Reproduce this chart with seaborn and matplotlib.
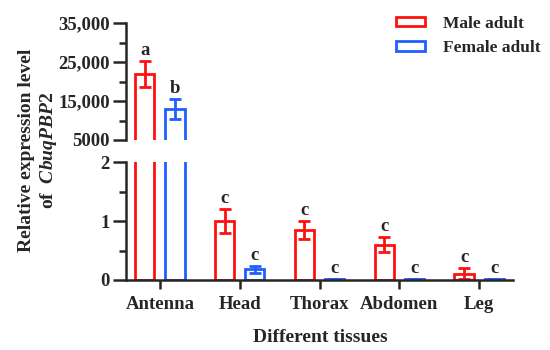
import numpy as np
import pandas as pd
import matplotlib
matplotlib.use("Agg")
import matplotlib.pyplot as plt
from matplotlib.patches import Patch
from matplotlib.ticker import MultipleLocator, FixedLocator, FixedFormatter
import seaborn as sns

# data
tissues = ["Antenna", "Head", "Thorax", "Abdomen", "Leg"]
male_mean = [21900, 1.00, 0.85, 0.60, 0.11]
male_sd = [3400, 0.20, 0.15, 0.13, 0.09]
female_mean = [13000, 0.18, 0.01, 0.01, 0.01]
female_sd = [2500, 0.06, 0.0, 0.0, 0.0]
male_letters = ["a", "c", "c", "c", "c"]
female_letters = ["b", "c", "c", "c", "c"]
sexes = ["Male adult", "Female adult"]
colors = ["#ff1010", "#1f5fff"]

df = pd.DataFrame({
    "tissue": tissues * 2,
    "sex": [sexes[0]] * 5 + [sexes[1]] * 5,
    "mean": male_mean + female_mean,
    "sd": male_sd + female_sd,
    "letter": male_letters + female_letters,
})

sns.set_style("ticks")
plt.rcParams["font.family"] = ["Liberation Serif", "DejaVu Serif"]
plt.rcParams["font.weight"] = "bold"
plt.rcParams["mathtext.fontset"] = "custom"
plt.rcParams["mathtext.it"] = "Liberation Serif:italic:bold"
plt.rcParams["mathtext.rm"] = "Liberation Serif:bold"

fig = plt.figure(figsize=(5.5, 3.5), dpi=100)
left, right = 0.229, 0.933
ax_top = fig.add_axes([left, 0.600, right - left, 0.334])
ax_bot = fig.add_axes([left, 0.200, right - left, 0.337])

for ax in (ax_top, ax_bot):
    sns.barplot(data=df, x="tissue", y="mean", hue="sex", order=tissues,
                hue_order=sexes, palette=colors, fill=False, width=0.76,
                gap=0.37, linewidth=2, errorbar=None, legend=False, ax=ax)
    lo, hi = (5000, 35000) if ax is ax_top else (0, 2)
    bar_conts = list(ax.containers)[:2]
    for k, cont in enumerate(bar_conts):
        sub = df[df["sex"] == sexes[k]].reset_index(drop=True)
        xs = [p.get_x() + p.get_width() / 2 for p in cont.patches]
        ax.errorbar(xs, sub["mean"], yerr=sub["sd"], fmt="none",
                    ecolor=colors[k], elinewidth=2, capsize=4.5, capthick=2)
        for x, m, s, lab in zip(xs, sub["mean"], sub["sd"], sub["letter"]):
            if lo <= m + s <= hi:
                ax.annotate(lab, (x, m + s), xytext=(0, 1.5),
                            textcoords="offset points", ha="center",
                            va="bottom", fontsize=13.5, fontweight="bold")
    ax.set_xlim(-0.425, 4.425)
    ax.set_ylim(lo, hi)
    ax.set_xlabel("")
    ax.set_ylabel("")
    sns.despine(ax=ax)
    for sp in ax.spines.values():
        sp.set_linewidth(1.8)
    ax.tick_params(axis="y", which="major", length=9.5, width=1.8,
                   labelsize=13.5, pad=2)
    ax.tick_params(axis="y", which="minor", length=5, width=1.8)
    ax.tick_params(axis="x", which="major", length=6.5, width=1.8,
                   labelsize=13.5, pad=5)

ax_top.spines["bottom"].set_visible(False)
ax_top.tick_params(axis="x", bottom=False, labelbottom=False)
ax_top.yaxis.set_major_locator(FixedLocator([5000, 15000, 25000, 35000]))
ax_top.yaxis.set_major_formatter(FixedFormatter(["5000", "15,000", "25,000", "35,000"]))
ax_top.yaxis.set_minor_locator(FixedLocator([10000, 20000, 30000]))

ax_bot.yaxis.set_major_locator(MultipleLocator(1))
ax_bot.yaxis.set_minor_locator(MultipleLocator(0.5))

for ax in (ax_top, ax_bot):
    for lab in ax.get_yticklabels() + ax.get_xticklabels():
        lab.set_fontweight("bold")

fig.text(0.582, 0.037, "Different tissues", ha="center", va="center",
         fontsize=14, fontweight="bold")
fig.text(0.070, 0.57, "Relative expression level\nof  $\\mathit{CbuqPBP2}$",
         rotation=90, ha="center", va="center", fontsize=14,
         fontweight="bold", multialignment="center", linespacing=1.2)

handles = [Patch(facecolor="white", edgecolor=c, linewidth=2) for c in colors]
fig.legend(handles, sexes, loc="upper left", bbox_to_anchor=(0.704, 0.98),
           frameon=False, handlelength=1.7, handleheight=0.5,
           handletextpad=1.0, labelspacing=0.5, borderpad=0,
           prop={"weight": "bold", "size": 12.5})

fig.savefig("out.png", dpi=100)
